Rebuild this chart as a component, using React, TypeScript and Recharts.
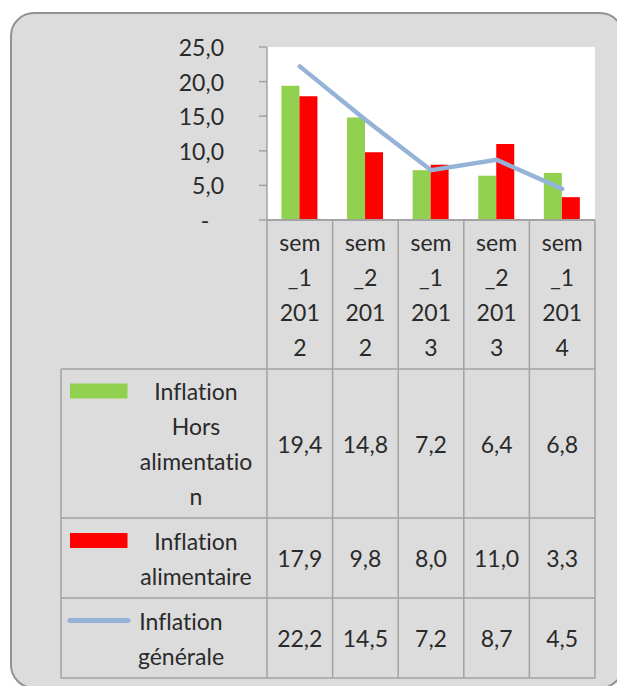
import React from "react";
import { ComposedChart, Bar, Line, XAxis, YAxis, CartesianGrid, Legend } from "recharts";

const periods = ["sem_1 2012", "sem_2 2012", "sem_1 2013", "sem_2 2013", "sem_1 2014"];
const horsAlimentation = [19.4, 14.8, 7.2, 6.4, 6.8];
const alimentaire = [17.9, 9.8, 8.0, 11.0, 3.3];
const generale = [22.2, 14.5, 7.2, 8.7, 4.5];
const yTicks = [0, 5, 10, 15, 20, 25];

const series = [
  { key: "hors", name: "Inflation Hors alimentation", values: horsAlimentation, color: "#92d050" },
  { key: "alim", name: "Inflation alimentaire", values: alimentaire, color: "#ff0000" },
  { key: "gen", name: "Inflation générale", values: generale, color: "#95b3d7" },
];

const data = periods.map((p, i) => ({
  period: p,
  hors: horsAlimentation[i],
  alim: alimentaire[i],
  gen: generale[i],
}));

// layout
const W = 617;
const H = 686;
const PLOT_LEFT = 267;
const PLOT_RIGHT = 595;
const PLOT_TOP = 47;
const PLOT_BOTTOM = 220;
const Y_AXIS_W = 60;
const X_AXIS_H = 30;
const BAND = (PLOT_RIGHT - PLOT_LEFT) / periods.length;
const ROW_LINES = [369, 518, 598, 678];
const TABLE_LEFT = 61;
const LINE_H = 35;
const FONT = "Lato, 'Liberation Sans', sans-serif";
const FONT_SIZE = 23;
const TEXT = "#2a2a2a";
const GRID = "#a3a3a3";
const NO_LIGA = { fontVariantLigatures: "none" } as React.CSSProperties;

const fmt = (v: number) => v.toFixed(1).replace(".", ",");

// excel-like wrapping: split words, then cut words longer than n
function wrap(text: string, n: number) {
  const out: string[] = [];
  text.split(" ").forEach((w) => {
    for (let i = 0; i < w.length; i += n) out.push(w.slice(i, i + n));
  });
  return out;
}

function lines(parts: string[], cx: number, cy: number, anchor = "middle") {
  const start = cy - ((parts.length - 1) * LINE_H) / 2;
  return parts.map((t, k) => (
    <text key={k} x={cx} y={start + k * LINE_H} textAnchor={anchor} dominantBaseline="central"
      fontFamily={FONT} fontSize={FONT_SIZE} fill={TEXT} style={NO_LIGA}>{t}</text>
  ));
}

function YTick(props: any) {
  const { x, y, payload } = props;
  const v = payload.value as number;
  if (v === 0) {
    return <text x={x - 19} y={y} textAnchor="middle" dominantBaseline="central" fontFamily={FONT} fontSize={FONT_SIZE} fill={TEXT}>-</text>;
  }
  return <text x={x} y={y} textAnchor="end" dominantBaseline="central" fontFamily={FONT} fontSize={FONT_SIZE} fill={TEXT}>{fmt(v)}</text>;
}

// each category tick draws its column of the data table
function TableColumn(props: any) {
  const { x, payload } = props;
  const i = payload.index as number;
  const left = x - BAND / 2;
  const right = x + BAND / 2;
  const headerMid = (PLOT_BOTTOM + ROW_LINES[0]) / 2;
  return (
    <g>
      {i === 0 && <line x1={left} x2={left} y1={PLOT_BOTTOM} y2={ROW_LINES[3]} stroke={GRID} strokeWidth={1.5} />}
      <line x1={right} x2={right} y1={PLOT_BOTTOM} y2={ROW_LINES[3]} stroke={GRID} strokeWidth={1.5} />
      {ROW_LINES.map((ly) => (
        <line key={ly} x1={left} x2={right} y1={ly} y2={ly} stroke={GRID} strokeWidth={1.5} />
      ))}
      {lines(wrap(String(payload.value), 3), x, headerMid)}
      {series.map((s, r) => (
        <text key={s.key} x={x} y={(ROW_LINES[r] + ROW_LINES[r + 1]) / 2} textAnchor="middle" dominantBaseline="central"
          fontFamily={FONT} fontSize={FONT_SIZE} fill={TEXT}>{fmt(s.values[i])}</text>
      ))}
    </g>
  );
}

// legend keys + series names = left column of the data table
function TableLegend(props: any) {
  const payload = (props.payload || []) as any[];
  return (
    <svg width={W} height={H} style={{ display: "block", pointerEvents: "none" }}>
      <line x1={TABLE_LEFT} x2={TABLE_LEFT} y1={ROW_LINES[0]} y2={ROW_LINES[3]} stroke={GRID} strokeWidth={1.5} />
      {ROW_LINES.map((ly) => (
        <line key={ly} x1={TABLE_LEFT} x2={PLOT_LEFT} y1={ly} y2={ly} stroke={GRID} strokeWidth={1.5} />
      ))}
      {payload.map((entry) => {
        const r = series.findIndex((s) => s.name === entry.value);
        if (r < 0) return null;
        const parts = wrap(entry.value, 11);
        const cy = (ROW_LINES[r] + ROW_LINES[r + 1]) / 2;
        const firstY = cy - ((parts.length - 1) * LINE_H) / 2;
        const isLine = entry.type === "line";
        return (
          <g key={entry.value}>
            {isLine ? (
              <line x1={70} x2={128} y1={firstY} y2={firstY} stroke={entry.color} strokeWidth={5} strokeLinecap="round" />
            ) : (
              <rect x={70} y={firstY - 7.5} width={57.5} height={15} fill={entry.color} />
            )}
            {lines(parts, isLine ? 181 : 196, cy)}
          </g>
        );
      })}
    </svg>
  );
}

export default function App() {
  return (
    <div style={{ position: "absolute", left: 0, top: 0, width: W, height: H, background: "#ffffff", overflow: "hidden" }}>
      <div style={{
        position: "absolute", left: 10, top: 12, width: 614, height: 677, boxSizing: "border-box",
        border: "2px solid #929292", borderRadius: 24, background: "#dcdcdc",
      }} />
      <div style={{ position: "absolute", left: 0, top: 0 }}>
        <ComposedChart
          width={W}
          height={H}
          data={data}
          margin={{ top: PLOT_TOP, right: W - PLOT_RIGHT, bottom: H - PLOT_BOTTOM - X_AXIS_H, left: PLOT_LEFT - Y_AXIS_W }}
          barCategoryGap="22%"
          barGap={0}
        >
          <CartesianGrid fill="#ffffff" horizontal={false} vertical={false} />
          <YAxis
            width={Y_AXIS_W}
            domain={[0, 25]}
            ticks={yTicks}
            interval={0}
            tick={<YTick />}
            tickSize={8}
            tickMargin={35}
            axisLine={{ stroke: GRID, strokeWidth: 1.5 }}
            tickLine={{ stroke: GRID, strokeWidth: 1.5 }}
          />
          <XAxis
            dataKey="period"
            height={X_AXIS_H}
            interval={0}
            tick={<TableColumn />}
            tickLine={false}
            axisLine={{ stroke: GRID, strokeWidth: 2 }}
          />
          <Legend
            verticalAlign="middle"
            align="center"
            layout="horizontal"
            width={W}
            wrapperStyle={{ left: 0, top: 0, pointerEvents: "none" }}
            content={<TableLegend />}
          />
          {series.slice(0, 2).map((s) => (
            <Bar key={s.key} dataKey={s.key} name={s.name} fill={s.color} isAnimationActive={false} />
          ))}
          <Line
            type="linear"
            dataKey="gen"
            name={series[2].name}
            stroke={series[2].color}
            strokeWidth={4.5}
            strokeLinecap="round"
            dot={false}
            activeDot={false}
            legendType="line"
            isAnimationActive={false}
          />
        </ComposedChart>
      </div>
    </div>
  );
}
